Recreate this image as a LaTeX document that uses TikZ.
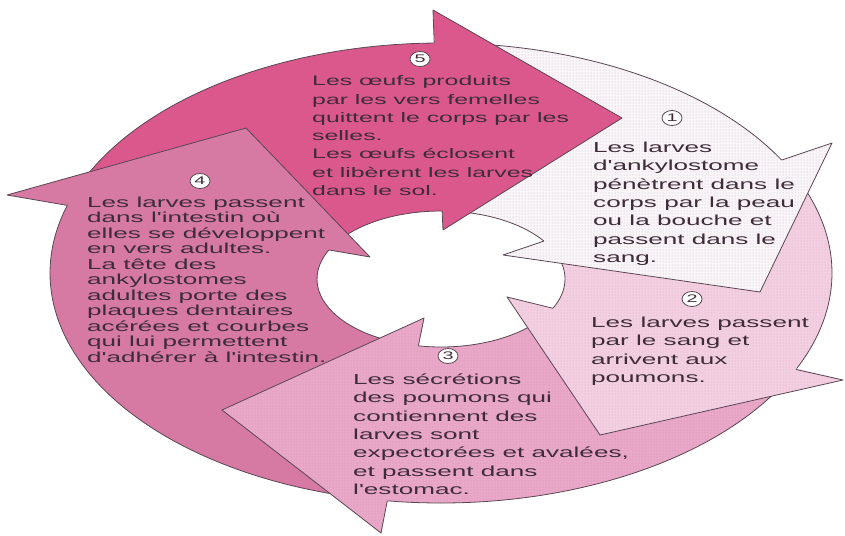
\documentclass[tikz,border=0pt]{standalone}
\usepackage{fontspec}
\setmainfont{Liberation Sans}
\newfontfamily\widefont[FakeStretch=1.8]{Liberation Sans}
\usetikzlibrary{calc,shapes.geometric,patterns}
\definecolor{cfive}{RGB}{219,88,140}
\definecolor{cfour}{RGB}{214,122,163}
\definecolor{cthree}{RGB}{233,168,200}
\definecolor{pthree}{RGB}{215,140,178}
\definecolor{ctwo}{RGB}{243,208,225}
\definecolor{ptwo}{RGB}{222,170,196}
\definecolor{cone}{RGB}{250,245,248}
\definecolor{pone}{RGB}{200,185,195}
\definecolor{outl}{RGB}{90,70,84}
\definecolor{txt}{RGB}{62,44,58}
% #1 fill style, #2 outer tail angle, #3 outer head angle, #4 inner tail angle, #5 inner head angle
\newcommand{\ArrBody}[5]{%
  \path[#1] ($(O)+(#2:391 and 230)$) arc[start angle=#2, end angle=#3+1.5, x radius=391, y radius=230]
     -- ($(I)+(#5+1.5:124 and 68)$) arc[start angle=#5+1.5, end angle=#4, x radius=124, y radius=68] -- cycle;
  \draw[edge] ($(O)+(#2:391 and 230)$) arc[start angle=#2, end angle=#3, x radius=391, y radius=230];
  \draw[edge] ($(I)+(#4:124 and 68)$) arc[start angle=#4, end angle=#5, x radius=124, y radius=68];
}
% #1 fill style, #2 outer head angle, #3 inner head angle, #4 outer barb, #5 tip, #6 inner barb
\newcommand{\ArrHead}[6]{%
  \path[#1] #4 -- #5 -- #6 -- cycle;
  \draw[edge] ($(O)+(#2:391 and 230)$) -- #4 -- #5 -- #6 -- ($(I)+(#3:124 and 68)$);
}
\begin{document}
\begin{tikzpicture}[x=1pt,y=-1pt,
  edge/.style={draw=outl, line width=0.8pt, line join=round},
  fone/.style={fill=cone, postaction={pattern=dots, pattern color=pone}},
  ftwo/.style={fill=ctwo, postaction={pattern=dots, pattern color=ptwo}},
  fthree/.style={fill=cthree, postaction={pattern=dots, pattern color=pthree}},
  ffour/.style={fill=cfour},
  ffive/.style={fill=cfive},
  tx/.style={anchor=north west, align=left, inner sep=0pt, text=txt,
    font=\widefont\fontsize{14.5}{18.4}\selectfont},
  badge/.style={ellipse, draw=outl, line width=0.8pt, fill=white,
    minimum width=20pt, minimum height=15pt, inner sep=0pt, text=txt,
    font=\widefont\fontsize{11}{11}\selectfont}]
\useasboundingbox (0,0) rectangle (845,535);
\coordinate (O) at (441,273);
\coordinate (I) at (441,279);
% ring bodies
\ArrBody{fone}{-85}{-29.4}{-80}{-33.9}
\ArrBody{ftwo}{-25.1}{24.8}{-22}{25.5}
\ArrBody{fthree}{28.4}{97.9}{35}{100.5}
\ArrBody{ffour}{100}{197.1}{110}{205.3}
\ArrBody{ffive}{200}{269}{210}{270.5}
% arrow heads
\ArrHead{ffive}{269}{270.5}{(433,10)}{(622,118)}{(443,230)}
\ArrHead{fone}{-29.4}{-33.9}{(832,143)}{(760,292)}{(503,255)}
\ArrHead{ftwo}{24.8}{25.5}{(843,380)}{(600,435)}{(507,297)}
\ArrHead{fthree}{97.9}{100.5}{(381,533)}{(222,410)}{(424,318)}
\ArrHead{ffour}{197.1}{205.3}{(7,195)}{(246,128)}{(370,257)}
% numbers
\node[badge] (n5) at (420,59) {5};
\node[badge] (n1) at (672,118) {1};
\node[badge] (n2) at (692,299) {2};
\node[badge] (n3) at (448,356) {3};
\node[badge] (n4) at (200,181) {4};
% texts
\node[tx, font=\widefont\fontsize{13.8}{18.3}\selectfont] (t5) at (312,75.5) {Les œufs produits\\par les vers femelles\\quittent le corps par les\\selles.\\Les œufs éclosent\\et libèrent les larves\\dans le sol.};
\node[tx] (t1) at (593,141.5) {Les larves\\d'ankylostome\\pénètrent dans le\\corps par la peau\\ou la bouche et\\passent dans le\\sang.};
\node[tx] (t2) at (591,316.5) {Les larves passent\\par le sang et\\arrivent aux\\poumons.};
\node[tx] (t3) at (353,373.5) {Les sécrétions\\des poumons qui\\contiennent des\\larves sont\\expectorées et avalées,\\et passent dans\\l'estomac.};
\node[tx, font=\widefont\fontsize{14.5}{15.5}\selectfont] (t4) at (87,196.5) {Les larves passent\\dans l'intestin où\\elles se développent\\en vers adultes.\\La tête des\\ankylostomes\\adultes porte des\\plaques dentaires\\acérées et courbes\\qui lui permettent\\d'adhérer à l'intestin.};
\end{tikzpicture}
\end{document}
